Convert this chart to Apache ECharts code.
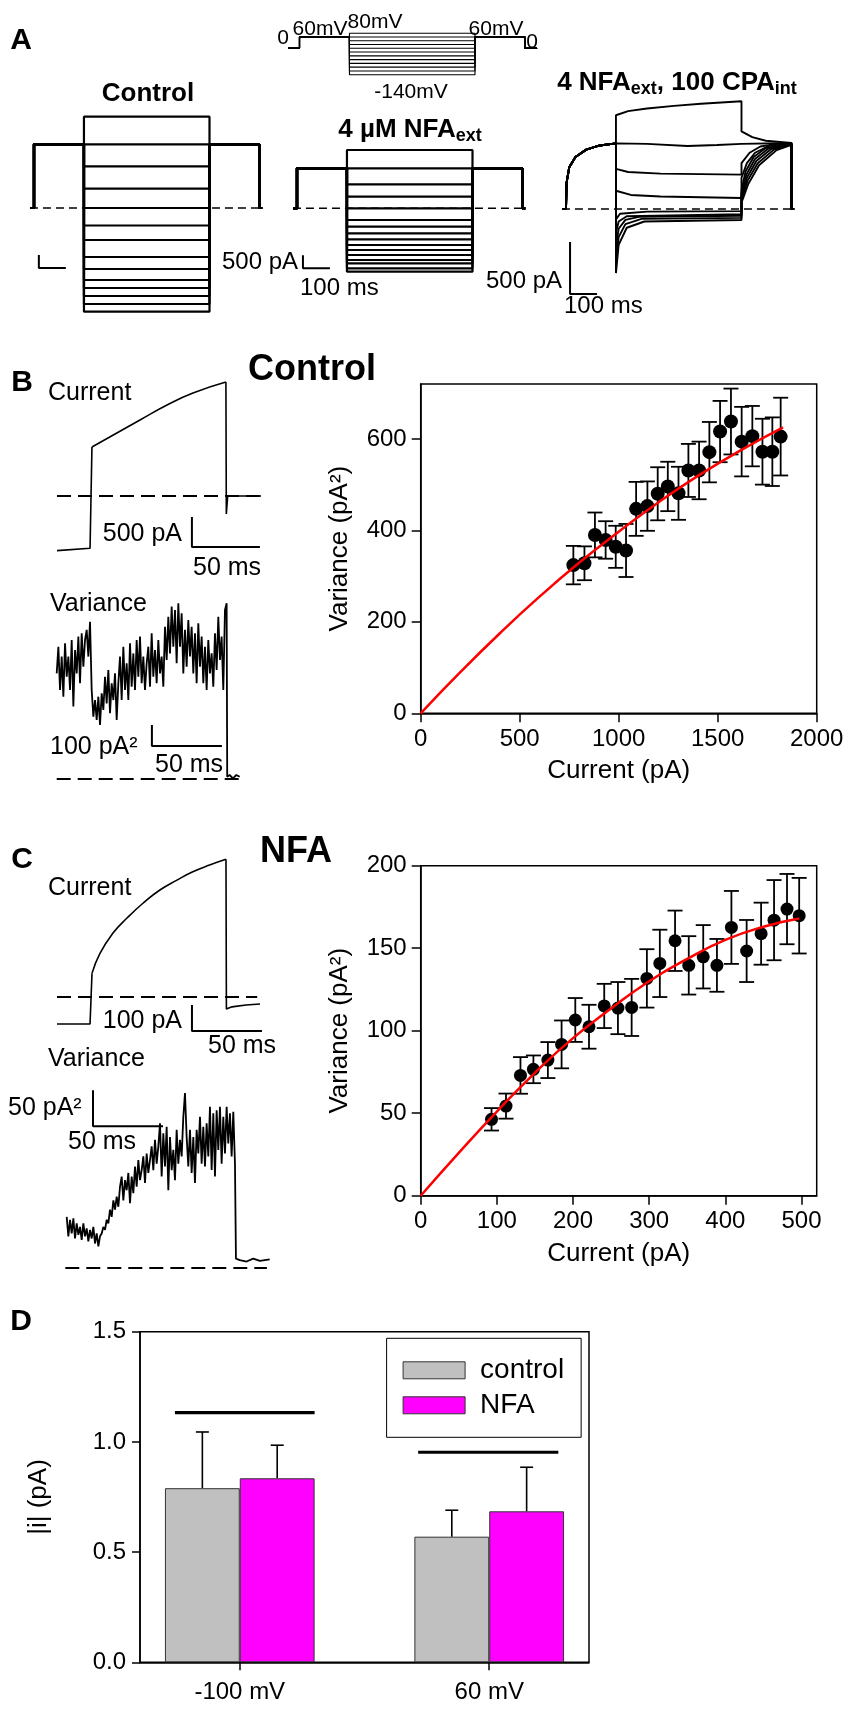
<!DOCTYPE html>
<html><head><meta charset="utf-8">
<script src="https://cdn.jsdelivr.net/npm/echarts@6/dist/echarts.min.js"></script>
<style>html,body{margin:0;padding:0;background:#fff}#c{width:843px;height:1710px}</style>
</head><body><div id="c"></div>
<script>
const FONT = "'Liberation Sans', Arial, Helvetica, sans-serif";

// ---------------- Panel A data ----------------
const stepTimes = [0, 185, 650, 835];                 // ms: pre on, step on, step off, end
const protocolLevels = [80, 60, 40, 20, 0, -20, -40, -60, -80, -100, -120, -140]; // mV
const protocolHold = 60;                               // mV
const controlHold = 2450;                              // pA
const controlLevels = [3515, 2452, 1605, 743, 0, -674, -1232, -1887, -2348, -2772, -3080, -3388, -3696, -3992];
const nfaHold = 1540;
const nfaLevels = [2245, 1540, 924, 447, 0, -450, -708, -963, -1194, -1413, -1605, -1798, -1990, -2118, -2310, -2441];
const cpaPre = [[-12, 0], [0, 0], [2, 250], [12, 400], [35, 500], [75, 570], [125, 610], [185, 630]];
const cpaSteps = [
  [[185, 900], [230, 940], [300, 965], [400, 990], [500, 1010], [650, 1035]],
  [[185, 634], [300, 625], [450, 605], [560, 615], [650, 625]],
  [[185, 385], [230, 355], [350, 340], [650, 330]],
  [[185, 175], [240, 135], [350, 120], [650, 105]],
  [[185, -100], [200, -45], [300, -25], [650, -20]],
  [[185, -230], [195, -120], [225, -70], [650, -50]],
  [[185, -360], [195, -190], [220, -105], [270, -75], [650, -65]],
  [[185, -490], [195, -270], [220, -145], [280, -95], [650, -85]],
  [[185, -615], [195, -345], [225, -180], [290, -120], [650, -105]]
];
const cpaTails = [
  [[650, 745], [690, 690], [740, 655], [835, 635]],
  [[650, 630], [835, 634]],
  [[650, 440], [680, 540], [720, 600], [780, 625], [835, 634]],
  [[650, 300], [670, 440], [700, 540], [750, 605], [835, 630]],
  [[650, 180], [665, 360], [695, 500], [740, 585], [835, 625]],
  [[650, 150], [668, 330], [700, 480], [750, 580], [835, 625]],
  [[650, 120], [670, 300], [705, 460], [760, 575], [835, 620]],
  [[650, 90], [672, 270], [710, 440], [770, 570], [835, 618]],
  [[650, 60], [675, 240], [715, 420], [780, 565], [835, 615]]
];
const scaleBarCtrl = [[18, -1810], [18, -2310], [118, -2310]];   // 500 pA, 100 ms
const scaleBarNfa = [[22, -1810], [22, -2310], [122, -2310]];    // 500 pA, 100 ms
const scaleBarCpa = [[15, -316], [15, -816], [115, -816]];       // 500 pA, 100 ms

// ---------------- Panel B traces ----------------
const bCurBase = [[0, -913], [24.3, -873], [25.7, 818]];
const bCurRise = [[25.7, 818], [44, 1052], [61, 1269], [80.9, 1520], [100, 1720], [124.2, 1904]];
const bCurOff = [[124.2, 1904], [124.5, -300], [125.5, 0], [150, 0]];
const bCurScale = [[99.2, -350], [99.2, -850], [149.2, -850]];   // 500 pA, 50 ms
const varDt = 1.19; // ms per sample of the variance traces
const bVariance = [503,630,424,583,392,646,487,583,424,662,
  345,614,503,678,456,694,535,662,710,583,
  749,424,297,376,281,392,257,408,329,487,
  360,519,313,456,376,503,281,456,583,376,
  630,424,551,376,646,440,598,424,662,487,
  678,456,583,424,551,630,440,694,487,614,
  456,662,503,583,440,725,567,773,598,821,
  630,805,551,837,630,789,503,710,535,757,
  583,725,503,694,456,741,535,678,456,630,
  424,662,503,598,440,694,519,773,567,678,
  424,805,837];
const bVarTail = [[121.8, 11], [123.5, 19], [125.9, 3], [128.3, 19], [130.7, 11]];
const bVarScale = [[68, 257], [68, 157], [118, 157]];            // 100 pA², 50 ms

// ---------------- Panel B scatter ----------------
const bX = [771, 827, 880, 934, 985, 1037, 1088, 1145, 1197, 1248, 1302, 1352, 1406, 1458, 1512, 1567, 1621, 1675, 1726, 1776, 1818];
const bY = [324, 328, 390, 379, 364, 356, 447, 453, 480, 496, 481, 531, 531, 571, 616, 638, 594, 606, 572, 572, 605];
const bSem = [42, 37, 49, 41, 46, 58, 59, 54, 58, 54, 58, 58, 63, 66, 67, 72, 76, 66, 72, 75, 85];
const bFit = [[0, 0], [200, 90], [400, 175], [600, 255], [800, 329], [1000, 397], [1200, 461], [1400, 519], [1600, 571], [1830, 625]];
const bYTicks = [0, 200, 400, 600];

// ---------------- Panel C traces ----------------
const cCurBase = [[0, -104], [23.6, -104], [25, 91]];
const cCurRise = [[25, 91], [30.7, 168], [40, 246], [50, 304], [61.4, 361], [73.5, 412], [85.7, 450], [97, 482], [109, 508], [120.7, 530]];
const cCurOff = [[120.7, 530], [121, -46], [125, -38], [135, -31], [145, -27]];
const cCurScale = [[96.4, -31], [96.4, -131], [146.4, -131]];    // 100 pA, 50 ms
const cVariance = [71,44,67,48,69,41,62,46,57,39,
  62,44,55,37,53,41,57,34,48,30,
  44,48,57,53,67,62,81,71,94,81,
  99,85,113,127,94,122,108,132,90,127,
  104,141,113,150,122,136,155,118,159,132,
  150,169,136,178,145,169,201,127,187,141,
  196,108,182,136,164,122,192,145,178,155,
  210,243,182,141,192,132,182,118,192,159,
  210,145,196,141,201,155,224,136,215,127,
  219,164,224,145,210,159,224,173,215,155,
  217,145];
const cVarTail = [[120.9, 13], [123.7, 11], [128.5, 9], [133.2, 13], [138, 10], [145, 12]];
const cVarScale = [[18.8, 247], [18.8, 197], [68.8, 197]];       // 50 pA², 50 ms

// ---------------- Panel C scatter ----------------
const cX = [93, 112, 131, 148, 167, 185, 203, 221, 241, 259, 277, 297, 314, 334, 352, 371, 389, 408, 428, 447, 464, 481, 497];
const cY = [46.3, 54.3, 72.9, 76.6, 82.2, 91.7, 106.5, 102.4, 115, 113.7, 114.1, 131.7, 140.8, 154.5, 139.6, 144.8, 139.6, 162.6, 148.3, 158.8, 167, 173.7, 169.7];
const cSem = [6.8, 7.6, 11.1, 8.4, 10.9, 14.5, 13.3, 13.3, 13.4, 15.8, 17.3, 17.7, 20.4, 18.3, 17.7, 19.2, 16, 22.1, 18.8, 18.8, 24.3, 21.3, 22.9];
const cFit = [[0, 0], [50, 26], [100, 51], [150, 74.5], [200, 95.5], [250, 113.5], [300, 130], [350, 143.5], [400, 155], [450, 163], [497, 168]];
const cXTicks = [0, 100, 200, 300, 400, 500];

// ---------------- Panel D ----------------
const dCategories = ['-100 mV', '60 mV'];
const dControl = [0.79, 0.57];
const dControlSem = [0.255, 0.12];
const dNFA = [0.835, 0.685];
const dNFASem = [0.15, 0.20];
const dSigLines = [[[0.74, 1.133], [1.30, 1.133]], [[1.715, 0.953], [2.277, 0.953]]];

// ---------------- layout helpers ----------------
function gridFor(x0, y0, xmin, xmax, ymin, ymax, pxX, pxY) {
  return { left: x0 + xmin * pxX, top: y0 - ymax * pxY, width: (xmax - xmin) * pxX, height: (ymax - ymin) * pxY,
           containLabel: false, outerBoundsMode: 'none', show: false };
}
const hidden = [
  { g: gridFor(299.5, 48.3, -60, 900, -160, 100, 0.27, 1 / 5.3), x: [-60, 900], y: [-160, 100] },
  { g: gridFor(34, 208, -20, 850, -4500, 4000, 0.27, 1 / 38.5), x: [-20, 850], y: [-4500, 4000] },
  { g: gridFor(297, 208.3, -20, 850, -4500, 4000, 0.27, 1 / 38.5), x: [-20, 850], y: [-4500, 4000] },
  { g: gridFor(566, 209, -20, 850, -900, 1200, 0.27, 1 / 9.6), x: [-20, 850], y: [-900, 1200] },
  { g: gridFor(57, 496, -5, 155, -1200, 2100, 1.36, 1 / 16.7), x: [-5, 155], y: [-1200, 2100] },
  { g: gridFor(56.7, 779, -5, 140, -100, 900, 1.4, 0.21), x: [-5, 140], y: [-100, 900] }
];
const hidden2 = [
  { g: gridFor(57, 997, -5, 155, -200, 620, 1.4, 1 / 3.85), x: [-5, 155], y: [-200, 620] },
  { g: gridFor(66.7, 1268, -5, 150, -20, 260, 1.4, 0.72), x: [-5, 150], y: [-20, 260] }
];
const frame = { show: true, borderColor: '#000', borderWidth: 1.5, backgroundColor: 'transparent', containLabel: false, outerBoundsMode: 'none' };
const gB = Object.assign({ left: 420.7, top: 384, width: 396, height: 329.3 }, frame);
const gC = Object.assign({ left: 420.7, top: 865.7, width: 396, height: 330 }, frame);
const gD = Object.assign({ left: 140, top: 1331.7, width: 449, height: 330.6 }, frame);

const grids = [], xAxes = [], yAxes = [];
function addHidden(h) {
  const i = grids.length;
  grids.push(h.g);
  xAxes.push({ type: 'value', gridIndex: i, min: h.x[0], max: h.x[1], show: false });
  yAxes.push({ type: 'value', gridIndex: i, min: h.y[0], max: h.y[1], show: false });
  return i;
}
hidden.forEach(addHidden);          // 0..5
const axLine = { show: true, onZero: false, lineStyle: { color: '#000', width: 1.5 } };
const tick = (len, vals) => ({ show: true, inside: false, length: len, customValues: vals, lineStyle: { color: '#000', width: 1.5 } });
const lab = (extra) => Object.assign({ color: '#000', fontSize: 24, fontFamily: FONT, margin: 14 }, extra || {});
const nameStyle = { fontSize: 26, color: '#000', fontFamily: FONT };
const plain = v => String(v);

// 6: B scatter
grids.push(gB);
xAxes.push({ type: 'value', gridIndex: 6, min: 0, max: 2000, interval: 500, axisLine: axLine,
  axisTick: { show: true, inside: false, length: 9, lineStyle: { color: '#000', width: 1.5 } },
  axisLabel: lab({ formatter: plain }), splitLine: { show: false }, name: 'Current (pA)', nameLocation: 'middle', nameGap: 45, nameTextStyle: nameStyle });
yAxes.push({ type: 'value', gridIndex: 6, min: 0, max: 720, axisLine: axLine, axisTick: tick(9, bYTicks),
  axisLabel: lab({ customValues: bYTicks, formatter: plain }), splitLine: { show: false }, name: 'Variance (pA²)', nameLocation: 'middle',
  nameRotate: 90, nameGap: 68, nameTextStyle: nameStyle });
hidden2.forEach(addHidden);         // 7, 8
// 9: C scatter
grids.push(gC);
xAxes.push({ type: 'value', gridIndex: 9, min: 0, max: 520, axisLine: axLine, axisTick: tick(9, cXTicks),
  axisLabel: lab({ customValues: cXTicks, formatter: plain }), splitLine: { show: false }, name: 'Current (pA)', nameLocation: 'middle', nameGap: 45, nameTextStyle: nameStyle });
yAxes.push({ type: 'value', gridIndex: 9, min: 0, max: 200, interval: 50, axisLine: axLine,
  axisTick: { show: true, inside: false, length: 9, lineStyle: { color: '#000', width: 1.5 } },
  axisLabel: lab({ formatter: plain }), splitLine: { show: false }, name: 'Variance (pA²)', nameLocation: 'middle',
  nameRotate: 90, nameGap: 68, nameTextStyle: nameStyle });
// 10: D
grids.push(gD);
const dXMin = 0.6, dXMax = 2.4, dHalf = 0.15;
xAxes.push({ type: 'value', gridIndex: 10, min: dXMin, max: dXMax, axisLine: axLine, axisTick: tick(8, [1, 2]),
  axisLabel: lab({ customValues: [1, 2], margin: 18, formatter: v => dCategories[Math.round(v) - 1] }), splitLine: { show: false } });
yAxes.push({ type: 'value', gridIndex: 10, min: 0, max: 1.5, interval: 0.5, axisLine: axLine,
  axisTick: { show: true, inside: false, length: 8, lineStyle: { color: '#000', width: 1.5 } },
  axisLabel: lab({ formatter: v => v.toFixed(1) }), splitLine: { show: false }, name: '|i| (pA)', nameLocation: 'middle',
  nameRotate: 90, nameGap: 88, nameTextStyle: nameStyle });

// ---------------- series ----------------
const series = [];
function line(ai, data, extra) {
  series.push(Object.assign({ type: 'line', xAxisIndex: ai, yAxisIndex: ai, data, symbol: 'none', showSymbol: false,
    silent: true, animation: false, lineStyle: { color: '#000', width: 1.6 }, z: 2 }, extra || {}));
}
const dashA = { lineStyle: { color: '#000', width: 1.6, type: [8, 5] } };
const dashB = { lineStyle: { color: '#000', width: 2, type: [14, 7] } };
const bar = { lineStyle: { color: '#000', width: 2 } };
const thick = { lineStyle: { color: '#000', width: 2.2 } };
const noisy = { lineStyle: { color: '#000', width: 1.8 } };

// protocol
const [t0, t1, t2, t3] = stepTimes;
protocolLevels.forEach(L => line(0, [[-42, 0], [t0, 0], [t0, protocolHold], [t1, protocolHold], [t1, L], [t2, L], [t2, protocolHold], [t3, protocolHold], [t3, 0], [880, 0]], { lineStyle: { color: '#000', width: 1.1 } }));
// control & NFA step traces
function stepTrace(hold, L) { return [[-14, 0], [t0, 0], [t0, hold], [t1, hold], [t1, L], [t2, L], [t2, hold], [t3, hold], [t3, 0], [t3 + 10, 0]]; }
line(1, [[-15, 0], [845, 0]], dashA);
controlLevels.forEach(L => line(1, stepTrace(controlHold, L), thick));
line(1, scaleBarCtrl, bar);
line(2, [[-15, 0], [845, 0]], dashA);
nfaLevels.forEach(L => line(2, stepTrace(nfaHold, L), thick));
line(2, scaleBarNfa, bar);
// CPA traces
line(3, [[-15, 0], [845, 0]], dashA);
cpaSteps.forEach((s, i) => line(3, cpaPre.concat(s, cpaTails[i], [[t3, 0], [t3 + 10, 0]]), { lineStyle: { color: '#000', width: 1.9 } }));
line(3, scaleBarCpa, bar);

// B traces
line(4, [[0, 0], [149, 0]], dashB);
line(4, bCurBase); line(4, bCurRise, { smooth: true }); line(4, bCurOff);
line(4, bCurScale, bar);
line(5, [[0, 0], [131, 0]], dashB);
line(5, bVariance.map((v, i) => [i * varDt, v]).concat(bVarTail), noisy);
line(5, bVarScale, bar);

// error bar renderer
function errBars(capHalf, lw, bottomCap) {
  return function (params, api) {
    const x = api.value(0), lo = api.value(1), hi = api.value(2);
    const a = api.coord([x, lo]), b = api.coord([x, hi]);
    const st = { stroke: '#000', lineWidth: lw };
    const ch = [
      { type: 'line', shape: { x1: a[0], y1: a[1], x2: b[0], y2: b[1] }, style: st },
      { type: 'line', shape: { x1: b[0] - capHalf, y1: b[1], x2: b[0] + capHalf, y2: b[1] }, style: st }
    ];
    if (bottomCap) ch.push({ type: 'line', shape: { x1: a[0] - capHalf, y1: a[1], x2: a[0] + capHalf, y2: a[1] }, style: st });
    return { type: 'group', children: ch };
  };
}
const dot = { color: '#000', opacity: 1 };
// B scatter
series.push({ type: 'custom', xAxisIndex: 6, yAxisIndex: 6, data: bX.map((x, i) => [x, bY[i] - bSem[i], bY[i] + bSem[i]]),
  encode: { x: 0, y: [1, 2] }, renderItem: errBars(7.5, 1.8, true), silent: true, z: 2, clip: false });
series.push({ type: 'scatter', xAxisIndex: 6, yAxisIndex: 6, data: bX.map((x, i) => [x, bY[i]]), symbolSize: 14,
  itemStyle: dot, silent: true, z: 3 });
line(6, bFit, { smooth: true, lineStyle: { color: '#ff0000', width: 2.5 }, z: 4 });

// C traces
line(7, [[0, 0], [143, 0]], dashB);
line(7, cCurBase); line(7, cCurRise, { smooth: true }); line(7, cCurOff);
line(7, cCurScale, bar);
line(8, [[-1, 0], [143, 0]], dashB);
line(8, cVariance.map((v, i) => [i * varDt, v]).concat(cVarTail), noisy);
line(8, cVarScale, bar);

// C scatter
series.push({ type: 'custom', xAxisIndex: 9, yAxisIndex: 9, data: cX.map((x, i) => [x, cY[i] - cSem[i], cY[i] + cSem[i]]),
  encode: { x: 0, y: [1, 2] }, renderItem: errBars(7.5, 1.8, true), silent: true, z: 2, clip: false });
series.push({ type: 'scatter', xAxisIndex: 9, yAxisIndex: 9, data: cX.map((x, i) => [x, cY[i]]), symbolSize: 13,
  itemStyle: dot, silent: true, z: 3 });
line(9, cFit, { smooth: true, lineStyle: { color: '#ff0000', width: 2.5 }, z: 4 });

// D bars
const dUnitPx = gD.width / (dXMax - dXMin);
series.push({ type: 'bar', name: 'control', xAxisIndex: 10, yAxisIndex: 10, data: dControl.map((v, i) => [i + 1, v]),
  barWidth: 2 * dHalf * dUnitPx, barGap: '0%', itemStyle: { color: '#c0c0c0', borderColor: '#333', borderWidth: 1 }, silent: true, z: 2 });
series.push({ type: 'bar', name: 'NFA', xAxisIndex: 10, yAxisIndex: 10, data: dNFA.map((v, i) => [i + 1, v]),
  barWidth: 2 * dHalf * dUnitPx, barGap: '0%', itemStyle: { color: '#ff00ff', borderColor: '#333', borderWidth: 1 }, silent: true, z: 2 });
series.push({ type: 'custom', xAxisIndex: 10, yAxisIndex: 10,
  data: dControl.map((v, i) => [i + 1 - dHalf, v, v + dControlSem[i]]).concat(dNFA.map((v, i) => [i + 1 + dHalf, v, v + dNFASem[i]])),
  encode: { x: 0, y: [1, 2] }, renderItem: errBars(6.5, 1.6, false), silent: true, z: 1, clip: false });
dSigLines.forEach(s => line(10, s, { lineStyle: { color: '#000', width: 3.2 } }));

// ---------------- texts ----------------
function T(text, x, y, size, opt) {
  opt = opt || {};
  const st = { text, x: 0, y: 0, fill: '#000', fontSize: size, fontFamily: FONT, fontWeight: opt.bold ? 'bold' : 'normal',
    align: opt.align || 'center', textAlign: opt.align || 'center', verticalAlign: 'middle', textVerticalAlign: 'middle' };
  if (opt.rich) st.rich = opt.rich;
  return { type: 'text', x, y, silent: true, z: 100, style: st };
}
const subRich = (size, sub) => ({
  b: { fontSize: size, fontWeight: 'bold', fontFamily: FONT, fill: '#000', lineHeight: size + 2, verticalAlign: 'top' },
  s: { fontSize: sub, fontWeight: 'bold', fontFamily: FONT, fill: '#000', lineHeight: sub + 2, verticalAlign: 'bottom', padding: [size * 0.5, 0, 0, 0] }
});
const texts = [
  T('A', 21, 41, 30, { bold: true }),
  T('0', 283, 38, 21), T('60mV', 320, 29, 21), T('80mV', 375, 22, 21), T('60mV', 496, 29, 21), T('0', 532, 42, 21),
  T('-140mV', 411, 92, 21),
  T('Control', 148, 94, 26, { bold: true }),
  T('{b|4 µM NFA}{s|ext}', 410, 131, 26, { rich: subRich(26, 18) }),
  T('{b|4 NFA}{s|ext}{b|, 100 CPA}{s|int}', 677, 84, 26, { rich: subRich(26, 18) }),
  T('500 pA', 298, 262, 24, { align: 'right' }), T('100 ms', 300, 288, 24, { align: 'left' }),
  T('500 pA', 562, 281, 24, { align: 'right' }), T('100 ms', 564, 306, 24, { align: 'left' }),

  T('B', 22, 383, 30, { bold: true }),
  T('Control', 312, 370, 36, { bold: true }),
  T('Current', 48, 393, 25, { align: 'left' }),
  T('500 pA', 182, 534, 25, { align: 'right' }), T('50 ms', 193, 568, 25, { align: 'left' }),
  T('Variance', 50, 604, 25, { align: 'left' }),
  T('100 pA²', 50, 747, 25, { align: 'left' }), T('50 ms', 155, 765, 25, { align: 'left' }),

  T('C', 22, 860, 30, { bold: true }),
  T('NFA', 296, 852, 36, { bold: true }),
  T('Current', 48, 888, 25, { align: 'left' }),
  T('100 pA', 182, 1021, 25, { align: 'right' }), T('50 ms', 208, 1046, 25, { align: 'left' }),
  T('Variance', 48, 1059, 25, { align: 'left' }),
  T('50 pA²', 8, 1108, 25, { align: 'left' }), T('50 ms', 68, 1142, 25, { align: 'left' }),

  T('D', 21, 1322, 30, { bold: true })
];

const option = {
  animation: false,
  backgroundColor: '#fff',
  textStyle: { fontFamily: FONT },
  grid: grids, xAxis: xAxes, yAxis: yAxes,
  legend: { data: ['control', 'NFA'], orient: 'vertical', left: 386.6, top: 1338.3, itemWidth: 62, itemHeight: 17, itemGap: 5,
    padding: [17, 17, 17, 16], borderColor: '#000', borderWidth: 1, selectedMode: false, icon: 'rect',
    itemStyle: { borderColor: '#333', borderWidth: 1 },
    textStyle: { fontSize: 28, color: '#000', fontFamily: FONT, lineHeight: 30, padding: [0, 0, 0, 10] } },
  graphic: { elements: texts },
  series
};
const chart = echarts.init(document.getElementById('c'), null, { renderer: 'canvas', width: 843, height: 1710 });
chart.setOption(option);
</script></body></html>
